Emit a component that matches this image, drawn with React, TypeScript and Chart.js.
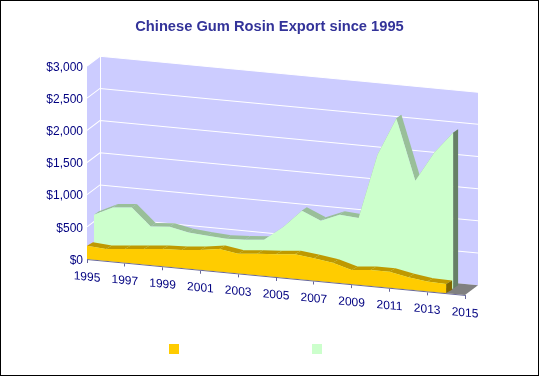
import React, { useEffect, useRef } from "react";
import { Chart, LineController, LinearScale, registerables } from "chart.js";

const years = [1995,1996,1997,1998,1999,2000,2001,2002,2003,2004,2005,2006,2007,2008,2009,2010,2011,2012,2013,2014];
const frontSeries = [207,183,211,239,267,280,307,351,306,334,353,380,346,306,220,248,250,191,151,143];
const backSeries = [621,762,790,523,547,486,463,444,457,484,706,990,863,984,961,1972,2565,1624,2087,2424];

const SKEW = 0.095;

function skew(ctx: CanvasRenderingContext2D, x0: number) {
  ctx.transform(1, SKEW, 0, 1, 0, -SKEW * x0);
}

class DepthArea extends LineController {
  static id = "depthArea";
  static defaults = LineController.defaults;
  draw() {
    const chart = this.chart;
    const ctx = chart.ctx;
    const ds: any = this.getDataset();
    const pts: any[] = this.getMeta().data as any;
    const base = chart.scales.y.getPixelForValue(0);
    const [dx, dy] = ds.depthOffset;
    const [bx, by] = ds.depthBand;
    ctx.save();
    skew(ctx, chart.chartArea.left);
    ctx.translate(dx, dy);
    // extruded top edge
    ctx.fillStyle = ds.bandColor;
    for (let i = 0; i < pts.length - 1; i++) {
      ctx.beginPath();
      ctx.moveTo(pts[i].x, pts[i].y);
      ctx.lineTo(pts[i + 1].x, pts[i + 1].y);
      ctx.lineTo(pts[i + 1].x + bx, pts[i + 1].y + by);
      ctx.lineTo(pts[i].x + bx, pts[i].y + by);
      ctx.closePath();
      ctx.fill();
    }
    // extruded right end
    const last = pts[pts.length - 1];
    ctx.fillStyle = ds.sideColor;
    ctx.beginPath();
    ctx.moveTo(last.x, last.y);
    ctx.lineTo(last.x + bx, last.y + by);
    ctx.lineTo(last.x + bx, base + by);
    ctx.lineTo(last.x, base);
    ctx.closePath();
    ctx.fill();
    // front face
    ctx.fillStyle = ds.backgroundColor;
    ctx.beginPath();
    ctx.moveTo(pts[0].x, base);
    pts.forEach((p) => ctx.lineTo(p.x, p.y));
    ctx.lineTo(last.x, base);
    ctx.closePath();
    ctx.fill();
    ctx.restore();
  }
}

class SkewedLinear extends LinearScale {
  static id = "skewedLinear";
  static defaults = LinearScale.defaults;
  draw(area: any) {
    const ctx = this.ctx;
    ctx.save();
    skew(ctx, this.chart.chartArea.left);
    super.draw(area);
    ctx.restore();
  }
}

const WALL_DX = 13;
const WALL_DY = -11;

const walls = {
  id: "walls",
  beforeDraw(chart: any) {
    const { ctx, width, height } = chart;
    ctx.save();
    ctx.strokeStyle = "#000000";
    ctx.lineWidth = 1;
    ctx.strokeRect(0.5, 0.5, width - 1, height - 1);
    ctx.restore();
  },
  beforeDatasetsDraw(chart: any) {
    const { ctx, chartArea: a, scales } = chart;
    const y = scales.y;
    ctx.save();
    skew(ctx, a.left);
    // left side wall + back wall
    ctx.fillStyle = "#CCCCFF";
    ctx.beginPath();
    ctx.moveTo(a.left, a.top);
    ctx.lineTo(a.left + WALL_DX, a.top + WALL_DY);
    ctx.lineTo(a.right + WALL_DX, a.top + WALL_DY);
    ctx.lineTo(a.right + WALL_DX, a.bottom + WALL_DY);
    ctx.lineTo(a.left + WALL_DX, a.bottom + WALL_DY);
    ctx.lineTo(a.left, a.bottom);
    ctx.closePath();
    ctx.fill();
    // floor
    ctx.fillStyle = "#808080";
    ctx.beginPath();
    ctx.moveTo(a.left, a.bottom);
    ctx.lineTo(a.left + WALL_DX, a.bottom + WALL_DY);
    ctx.lineTo(a.right + WALL_DX, a.bottom + WALL_DY);
    ctx.lineTo(a.right, a.bottom);
    ctx.closePath();
    ctx.fill();
    // grid
    ctx.strokeStyle = "#FFFFFF";
    ctx.lineWidth = 1;
    y.ticks.forEach((t: any) => {
      if (t.value === 0) return;
      const py = y.getPixelForValue(t.value);
      ctx.beginPath();
      ctx.moveTo(a.left, py);
      ctx.lineTo(a.left + WALL_DX, py + WALL_DY);
      ctx.lineTo(a.right + WALL_DX, py + WALL_DY);
      ctx.stroke();
    });
    ctx.beginPath();
    ctx.moveTo(a.left + WALL_DX + 0.5, a.top + WALL_DY);
    ctx.lineTo(a.left + WALL_DX + 0.5, a.bottom + WALL_DY);
    ctx.stroke();
    ctx.restore();
  },
  afterDraw(chart: any) {
    const ctx = chart.ctx;
    const xs = [169, 312];
    chart.data.datasets.forEach((ds: any, i: number) => {
      ctx.fillStyle = ds.backgroundColor;
      ctx.fillRect(xs[i], 344, 10, 10);
    });
  },
};

Chart.register(...registerables, DepthArea, SkewedLinear);

const FONT = "'Liberation Sans', Arial, sans-serif";

export default function App() {
  const ref = useRef<HTMLCanvasElement>(null);
  useEffect(() => {
    document.body.style.margin = "0";
    const chart = new Chart(ref.current!, {
      type: "depthArea" as any,
      data: {
        datasets: [
          {
            label: "Series 1",
            data: years.map((x, i) => ({ x, y: frontSeries[i] })),
            backgroundColor: "#FFCC00",
            bandColor: "#BF9900",
            sideColor: "#806600",
            depthOffset: [0, 0],
            depthBand: [6, -4],
            pointRadius: 0,
            order: 0,
            clip: false,
          } as any,
          {
            label: "Series 2",
            data: years.map((x, i) => ({ x, y: backSeries[i] })),
            backgroundColor: "#CCFFCC",
            bandColor: "#99BF99",
            sideColor: "#668066",
            depthOffset: [7, -5],
            depthBand: [5, -4],
            pointRadius: 0,
            order: 1,
            clip: false,
          } as any,
        ],
      },
      options: {
        animation: false,
        responsive: false,
        parsing: false as any,
        plugins: {
          legend: { display: false },
          tooltip: { enabled: false },
          title: {
            display: true,
            text: "Chinese Gum Rosin Export since 1995",
            color: "#333399",
            font: { family: FONT, size: 14.7, weight: "bold", lineHeight: 1.2 },
            padding: { top: 18, bottom: 30.36 },
          },
        },
        scales: {
          x: {
            type: "skewedLinear" as any,
            position: "bottom",
            min: 1995,
            max: 2015,
            afterFit: (s: any) => { s.height = 117; },
            grid: { display: true, drawOnChartArea: false, drawTicks: true, tickLength: 4, tickColor: "#666699" },
            border: { display: true, color: "#666699" },
            ticks: {
              stepSize: 2,
              autoSkip: false,
              maxRotation: 0,
              minRotation: 0,
              padding: 7,
              color: "#000080",
              font: { family: FONT, size: 12 },
              callback: (v: any) => String(v),
            },
          },
          y: {
            type: "linear",
            position: "left",
            min: 0,
            max: 3000,
            afterFit: (s: any) => { s.width = 87; },
            grid: { display: false, drawTicks: false },
            border: { display: false },
            ticks: {
              stepSize: 500,
              padding: 4,
              labelOffset: 1.5,
              color: "#000080",
              font: { family: FONT, size: 12 },
              callback: (v: any) => "$" + Number(v).toLocaleString("en-US"),
            },
          },
          // empty right-hand gutter, so the title stays centred on the whole canvas
          gutter: {
            type: "linear",
            position: "right",
            afterFit: (s: any) => { s.width = 74; },
            grid: { display: false },
            border: { display: false },
            ticks: { display: false },
          },
        },
      },
      plugins: [walls],
    } as any);
    return () => chart.destroy();
  }, []);
  return <canvas ref={ref} width={539} height={376} style={{ display: "block" }} />;
}
